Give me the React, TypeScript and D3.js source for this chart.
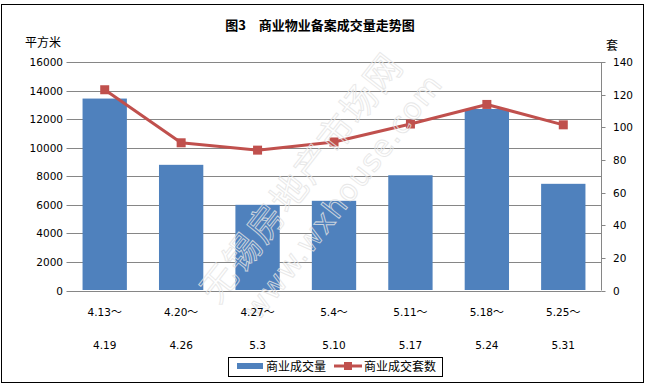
import React from "react";
import * as d3 from "d3";

// weekly periods, two label lines each
const periodStart = ["4.13～", "4.20～", "4.27～", "5.4～", "5.11～", "5.18～", "5.25～"];
const periodEnd = ["4.19", "4.26", "5.3", "5.10", "5.17", "5.24", "5.31"];
// 商业成交量 (平方米)
const areaValues = [13440, 8800, 6000, 6280, 8070, 12710, 7470];
// 商业成交套数 (套)
const unitValues = [123, 90.5, 86, 91, 102, 114, 101.5];
const leftTicks = [0, 2000, 4000, 6000, 8000, 10000, 12000, 14000, 16000];
const rightTicks = [0, 20, 40, 60, 80, 100, 120, 140];

const W = 649, H = 385;
const plotLeft = 66.5, plotRight = 601.5, plotTop = 62, plotBottom = 290.5;
const barColor = "#4F81BD";
const lineColor = "#C0504D";
const gridColor = "#868686";
const numFont = "'DejaVu Sans', sans-serif";
const cjkFont = "'Noto Sans CJK SC', sans-serif";

export default function App() {
  const x = d3.scaleBand<number>()
    .domain(d3.range(periodStart.length))
    .range([plotLeft, plotRight])
    .paddingInner(0.42)
    .paddingOuter(0.21);
  const yL = d3.scaleLinear().domain([0, 16000]).range([plotBottom, plotTop]);
  const yR = d3.scaleLinear().domain([0, 140]).range([plotBottom, plotTop]);
  const cx = (i: number) => (x(i) as number) + x.bandwidth() / 2;

  const line = d3.line<number>()
    .x((_, i) => cx(i))
    .y(d => yR(d));

  return (
    <svg width={W} height={H} style={{ position: "absolute", left: 0, top: 0, background: "#fff" }}>
      <rect x={1.5} y={4.5} width={642} height={378} fill="#fff" stroke="#000" strokeWidth={1} />

      {/* title */}
      <text x={320} y={30} textAnchor="middle" fontFamily={cjkFont} fontWeight="bold" fontSize={13}>
        图3　商业物业备案成交量走势图
      </text>
      <text x={43} y={47} textAnchor="middle" fontFamily={cjkFont} fontSize={12}>平方米</text>
      <text x={612} y={50} textAnchor="middle" fontFamily={cjkFont} fontSize={12}>套</text>

      {/* gridlines */}
      {leftTicks.map(t => (
        <line key={t} x1={plotLeft} x2={plotRight} y1={Math.round(yL(t)) + 0.5} y2={Math.round(yL(t)) + 0.5}
          stroke={gridColor} strokeWidth={1} />
      ))}

      {/* left axis labels */}
      {leftTicks.map(t => (
        <text key={t} x={63} y={yL(t) + 4} textAnchor="end" fontFamily={numFont} fontSize={10.5}>{t}</text>
      ))}

      {/* right axis */}
      <line x1={plotRight} x2={plotRight} y1={plotTop} y2={plotBottom} stroke={gridColor} strokeWidth={1} />
      {rightTicks.map(t => (
        <g key={t}>
          <line x1={plotRight} x2={plotRight + 4} y1={Math.round(yR(t)) + 0.5} y2={Math.round(yR(t)) + 0.5}
            stroke={gridColor} />
          <text x={613} y={yR(t) + 4} fontFamily={numFont} fontSize={10.5}>{t}</text>
        </g>
      ))}

      {/* bars */}
      {areaValues.map((v, i) => (
        <rect key={i} x={x(i)} y={yL(v)} width={x.bandwidth()} height={plotBottom - 0.5 - yL(v)} fill={barColor} />
      ))}

      {/* line series */}
      <path d={line(unitValues) as string} fill="none" stroke={lineColor} strokeWidth={3} strokeLinejoin="round" />
      {unitValues.map((v, i) => (
        <rect key={i} x={cx(i) - 4.5} y={yR(v) - 4.5} width={9} height={9} fill={lineColor} />
      ))}

      {/* watermark, drawn over the plot */}
      <g fill="none" stroke="#e4e4e4" strokeWidth={0.9} opacity={0.85}>
        <text transform="translate(218,305) rotate(-52)" fontFamily={cjkFont} fontSize={36} letterSpacing={2}>
          无锡房地产市场网
        </text>
        <text transform="translate(258,322) rotate(-52)" fontFamily={numFont} fontSize={30} letterSpacing={1}>
          www.wxhouse.com
        </text>
      </g>

      {/* category labels */}
      {periodStart.map((s, i) => (
        <g key={i} fontFamily={numFont} fontSize={10.5} textAnchor="middle">
          <text x={cx(i)} y={316}>
            {s.slice(0, -1)}
            <tspan fontFamily={cjkFont} fontSize={11}>{s.slice(-1)}</tspan>
          </text>
          <text x={cx(i)} y={349}>{periodEnd[i]}</text>
        </g>
      ))}

      {/* legend */}
      <rect x={228.5} y={357.5} width={214} height={19} fill="#fff" stroke="#000" />
      <rect x={237} y={363} width={26} height={6} fill={barColor} />
      <text x={266} y={371} fontFamily={cjkFont} fontSize={12}>商业成交量</text>
      <line x1={334} x2={362} y1={366} y2={366} stroke={lineColor} strokeWidth={3} />
      <rect x={344} y={362} width={8} height={8} fill={lineColor} />
      <text x={364} y={371} fontFamily={cjkFont} fontSize={12}>商业成交套数</text>
    </svg>
  );
}
